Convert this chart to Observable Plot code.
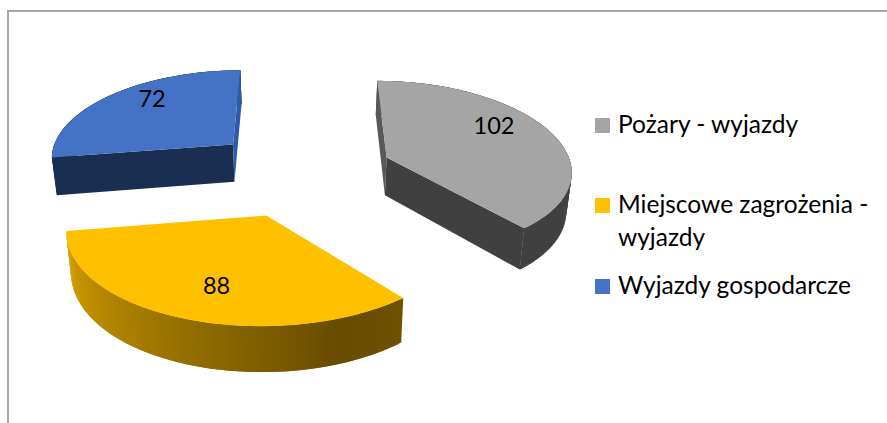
<!DOCTYPE html>
<html lang="pl">
<head>
<meta charset="utf-8">
<script src="https://cdn.jsdelivr.net/npm/d3@7"></script>
<script src="https://cdn.jsdelivr.net/npm/@observablehq/plot@0.6"></script>
<style>
  html, body { margin: 0; padding: 0; background: #fff; }
  #page { position: relative; width: 887px; height: 423px; overflow: hidden; font-family: Lato, sans-serif; color: #000; }
  #frame { position: absolute; left: 7px; top: 10px; right: 0; bottom: 0; border-top: 2px solid #a6a6a6; border-left: 2px solid #a6a6a6; }
  #chart { position: absolute; left: 0; top: 0; }
  #legend { position: absolute; left: 0; top: 0; }
  .sw { position: absolute; width: 15px; height: 15px; }
  .lb { position: absolute; font-size: 24.5px; line-height: 33px; white-space: nowrap; }
</style>
</head>
<body>
<div id="page"><div id="frame"></div><div id="chart"></div><div id="legend"></div></div>
<script>
// Data
const categories = ["Pożary - wyjazdy", "Miejscowe zagrożenia - wyjazdy", "Wyjazdy gospodarcze"];
const values = [102, 88, 72];

// Appearance (null = the face is hidden from this viewpoint)
const topColors = ["#a5a5a5", "#ffc000", "#4472c4"];
const startFaceColors = ["#585858", null, "#1a2e52"];
const endFaceColors = ["#404040", null, "#2f5ba6"];
const wallStops = [
  [[0, "#404040"], [1, "#404040"]],
  [[0, "#6e5200"], [0.165, "#674c00"], [1, "#dba400"]],
  [[0, "#1a2e52"], [1, "#1a2e52"]]
];

// View of the tilted pie: all geometry comes from the values through this camera
const cam = {cx: 300.5, cy: 171.6, u: 186, v: 88, wx: 0.125, wy: 0.11, depth: 38.5, taper: 0.02, explode: 0.5};
const labelAlong = [0.425, 0.475, 0.585];
const labelReach = [0.74, 0.705, 0.78];
const rad = d => d * Math.PI / 180;

function project(X, Y, Z = 0) {
  const Dx = 1 + cam.wx * Y, Dy = 1 + cam.wy * Y;
  return {
    x: cam.cx + cam.u * X / Dx * (1 - cam.taper * Z),
    y: cam.cy - cam.v * Y / Dy + cam.depth * Z / Dy
  };
}

const total = d3.sum(values);
let acc = 0;
const slices = values.map((v, i) => {
  const a0 = acc / total * 360;
  acc += v;
  const a1 = acc / total * 360;
  const mid = (a0 + a1) / 2;
  return {i, v, a0, a1, ox: cam.explode * Math.sin(rad(mid)), oy: cam.explode * Math.cos(rad(mid))};
});

const rim = (s, a, Z = 0) => project(s.ox + Math.sin(rad(a)), s.oy + Math.cos(rad(a)), Z);
const hub = (s, Z = 0) => project(s.ox, s.oy, Z);

const rows = [];
const addFace = (id, color, pts) => pts.forEach(p => rows.push({id, color, x: p.x, y: p.y}));

// outer wall (each strip overlaps the next so no seams show), then the side faces, then the tops
slices.forEach(s => {
  const shade = d3.scaleLinear().domain(wallStops[s.i].map(d => d[0])).range(wallStops[s.i].map(d => d[1]));
  const n = Math.ceil(s.a1 - s.a0);
  const step = (s.a1 - s.a0) / n;
  d3.range(n).forEach(k => {
    const a = s.a0 + step * k, b = Math.min(s.a1, a + step * 2);
    addFace(`w${s.i}-${k}`, d3.color(shade((k + 0.5) / n)).formatHex(), [rim(s, a), rim(s, b), rim(s, b, 1), rim(s, a, 1)]);
  });
});
slices.forEach(s => {
  if (startFaceColors[s.i]) addFace(`s${s.i}`, startFaceColors[s.i], [hub(s), rim(s, s.a0), rim(s, s.a0, 1), hub(s, 1)]);
  if (endFaceColors[s.i]) addFace(`e${s.i}`, endFaceColors[s.i], [hub(s), rim(s, s.a1), rim(s, s.a1, 1), hub(s, 1)]);
});
slices.forEach(s => {
  const n = Math.ceil(s.a1 - s.a0);
  addFace(`t${s.i}`, topColors[s.i], [hub(s), ...d3.range(n + 1).map(k => rim(s, s.a0 + (s.a1 - s.a0) * k / n))]);
});

const labels = slices.map(s => {
  const a = s.a0 + (s.a1 - s.a0) * labelAlong[s.i];
  const r = labelReach[s.i];
  return {...project(s.ox + r * Math.sin(rad(a)), s.oy + r * Math.cos(rad(a))), text: String(s.v)};
});

const plot = Plot.plot({
  width: 887,
  height: 423,
  margin: 0,
  x: {domain: [0, 887], axis: null},
  y: {domain: [423, 0], axis: null},
  color: {type: "identity"},
  style: {background: "transparent", fontFamily: "Lato, sans-serif"},
  marks: [
    Plot.line(rows, {x: "x", y: "y", z: "id", fill: "color", stroke: "none", curve: "linear"}),
    Plot.text(labels, {x: "x", y: "y", text: "text", fontSize: 23.5, fill: "#000"})
  ]
});
document.getElementById("chart").append(plot);

// Legend
const legendRows = [
  {sw: 118, text: [[107, categories[0]]]},
  {sw: 198, text: [[187, "Miejscowe zagrożenia -"], [220, "wyjazdy"]]},
  {sw: 279, text: [[268, categories[2]]]}
];
const legend = document.getElementById("legend");
legendRows.forEach((r, i) => {
  const sw = document.createElement("div");
  sw.className = "sw";
  sw.style.cssText = `left:595px;top:${r.sw}px;background:${topColors[i]}`;
  legend.append(sw);
  r.text.forEach(([top, t]) => {
    const lb = document.createElement("div");
    lb.className = "lb";
    lb.style.cssText = `left:618px;top:${top}px`;
    lb.textContent = t;
    legend.append(lb);
  });
});
</script>
</body>
</html>
